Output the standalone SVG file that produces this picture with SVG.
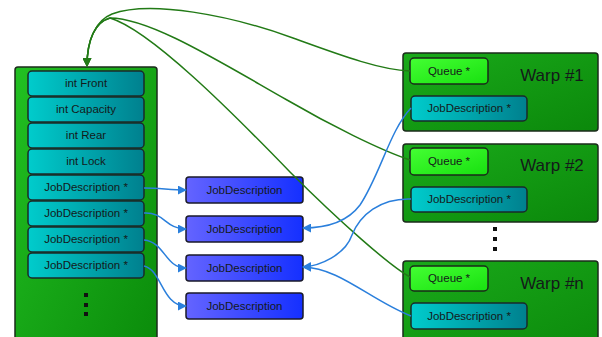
<svg xmlns="http://www.w3.org/2000/svg" width="602" height="337" viewBox="0 0 602 337">
<defs>
<linearGradient id="gOuter" x1="0" y1="0" x2="1" y2="1"><stop offset="0" stop-color="#22c022"/><stop offset="1" stop-color="#0a8a0a"/></linearGradient>
<linearGradient id="gWarp" x1="0" y1="0" x2="1" y2="1"><stop offset="0" stop-color="#1aaa1a"/><stop offset="1" stop-color="#0b880b"/></linearGradient>
<linearGradient id="gCell" x1="0" y1="0" x2="1" y2="0"><stop offset="0" stop-color="#00cccc"/><stop offset="1" stop-color="#00808e"/></linearGradient>
<linearGradient id="gBlue" x1="0" y1="0" x2="1" y2="0"><stop offset="0" stop-color="#6464ff"/><stop offset="1" stop-color="#1530ff"/></linearGradient>
<linearGradient id="gQueue" x1="0" y1="0" x2="1" y2="1"><stop offset="0" stop-color="#44ff33"/><stop offset="1" stop-color="#18e010"/></linearGradient>
<marker id="aGreen" viewBox="0 0 10 10" refX="9" refY="5" markerWidth="9" markerHeight="9" markerUnits="userSpaceOnUse" orient="auto"><path d="M0,0 L10,5 L0,10 z" fill="#227a16"/></marker>
<marker id="aBlue" viewBox="0 0 10 10" refX="9" refY="5" markerWidth="9" markerHeight="9" markerUnits="userSpaceOnUse" orient="auto"><path d="M0,0 L10,5 L0,10 z" fill="#2a7fdc"/></marker>
</defs>
<style>
.outer{fill:url(#gOuter);stroke:#1b2b1b;stroke-width:1.5}
.warp{fill:url(#gWarp);stroke:#1b2b1b;stroke-width:1.5}
.cell{fill:url(#gCell);stroke:#1a2a2a;stroke-width:1.5}
.blue{fill:url(#gBlue);stroke:#1a1a2a;stroke-width:1.5}
.queue{fill:url(#gQueue);stroke:#1a2a1a;stroke-width:1.5}
text{font-family:"Liberation Sans",Arial,sans-serif;fill:#141a1a;text-anchor:middle}
.t{font-size:11.5px}
.w{font-size:17px}
.g{fill:none;stroke:#227a16;stroke-width:1.5}
.b{fill:none;stroke:#2a7fdc;stroke-width:1.5}
.dot{fill:#111}
</style>
<rect width="602" height="337" fill="#ffffff"/>

<g id="queueStruct">
<rect class="outer" x="15" y="67" width="142" height="290" rx="3"/>
<rect class="cell" x="28" y="71" width="116" height="25" rx="4"/>
<text class="t" x="86" y="87">int Front</text>
<rect class="cell" x="28" y="97" width="116" height="25" rx="4"/>
<text class="t" x="86" y="113">int Capacity</text>
<rect class="cell" x="28" y="123" width="116" height="25" rx="4"/>
<text class="t" x="86" y="139">int Rear</text>
<rect class="cell" x="28" y="149" width="116" height="25" rx="4"/>
<text class="t" x="86" y="165">int Lock</text>
<rect class="cell" x="28" y="175" width="116" height="25" rx="4"/>
<text class="t" x="86" y="191">JobDescription *</text>
<rect class="cell" x="28" y="201" width="116" height="25" rx="4"/>
<text class="t" x="86" y="217">JobDescription *</text>
<rect class="cell" x="28" y="227" width="116" height="25" rx="4"/>
<text class="t" x="86" y="243">JobDescription *</text>
<rect class="cell" x="28" y="253" width="116" height="25" rx="4"/>
<text class="t" x="86" y="269">JobDescription *</text>
<rect class="dot" x="84" y="293" width="4" height="4"/>
<rect class="dot" x="84" y="303" width="4" height="4"/>
<rect class="dot" x="84" y="312" width="4" height="4"/>
</g>

<g id="job1"><rect class="blue" x="186" y="177" width="117" height="26" rx="3"/><text class="t" x="244.5" y="194">JobDescription</text></g>
<g id="job2"><rect class="blue" x="186" y="216" width="117" height="26" rx="3"/><text class="t" x="244.5" y="233">JobDescription</text></g>
<g id="job3"><rect class="blue" x="186" y="255" width="117" height="26" rx="3"/><text class="t" x="244.5" y="272">JobDescription</text></g>
<g id="job4"><rect class="blue" x="186" y="293" width="117" height="26" rx="3"/><text class="t" x="244.5" y="310">JobDescription</text></g>

<g id="warp1">
<rect class="warp" x="403" y="53" width="195" height="78" rx="3"/>
<rect class="queue" x="410" y="58" width="78" height="26" rx="4"/>
<text class="t" x="449" y="75">Queue *</text>
<rect class="cell" x="411" y="96" width="116" height="25" rx="4"/>
<text class="t" x="469" y="112">JobDescription *</text>
<text class="w" x="552" y="81">Warp #1</text>
</g>
<g id="warp2">
<rect class="warp" x="403" y="144" width="195" height="78" rx="3"/>
<rect class="queue" x="410" y="148" width="78" height="27" rx="4"/>
<text class="t" x="449" y="165">Queue *</text>
<rect class="cell" x="411" y="187" width="116" height="25" rx="4"/>
<text class="t" x="469" y="203">JobDescription *</text>
<text class="w" x="552" y="171">Warp #2</text>
</g>
<g id="warpDots">
<rect class="dot" x="493" y="227" width="4" height="4"/>
<rect class="dot" x="493" y="237" width="4" height="4"/>
<rect class="dot" x="493" y="247" width="4" height="4"/>
</g>
<g id="warpN">
<rect class="warp" x="403" y="261" width="195" height="100" rx="3"/>
<rect class="queue" x="410" y="266" width="78" height="25" rx="4"/>
<text class="t" x="449" y="282">Queue *</text>
<rect class="cell" x="411" y="303" width="116" height="26" rx="4"/>
<text class="t" x="469" y="320">JobDescription *</text>
<text class="w" x="552" y="289">Warp #n</text>
</g>

<g id="connectors">
<path class="g" d="M410,71 C380,70 340,55 293,38 C230,15 150,0 112,14 C97,20 87,38 87,66" marker-end="url(#aGreen)"/>
<path class="g" d="M410,160 C380,150 330,125 287,100 C220,62 150,18 110,18 C95,22 87,40 87,66" marker-end="url(#aGreen)"/>
<path class="g" d="M410,277 C390,266 340,222 290,172 C230,110 150,30 110,18 C95,22 87,40 87,66" marker-end="url(#aGreen)"/>
<path class="b" d="M144,188 C160,188 170,190 186,190" marker-end="url(#aBlue)"/>
<path class="b" d="M144,213 C165,212 165,229 186,229" marker-end="url(#aBlue)"/>
<path class="b" d="M144,240 C165,242 165,268 186,268" marker-end="url(#aBlue)"/>
<path class="b" d="M144,266 C162,270 162,306 186,306" marker-end="url(#aBlue)"/>
<path class="b" d="M411,108 C390,130 380,175 360,205 C345,225 320,228 303,228" marker-end="url(#aBlue)"/>
<path class="b" d="M411,199 C380,198 360,215 352,235 C345,255 320,266 303,267" marker-end="url(#aBlue)"/>
<path class="b" d="M411,316 C370,300 340,268 303,267" marker-end="url(#aBlue)"/>
</g>
</svg>
